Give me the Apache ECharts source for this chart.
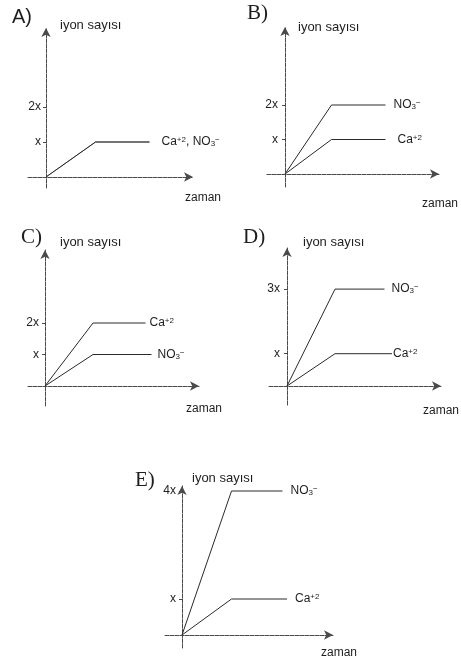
<!DOCTYPE html>
<html>
<head>
<meta charset="utf-8">
<script src="https://cdn.jsdelivr.net/npm/echarts@6/dist/echarts.min.js"></script>
<style>
  html, body { margin: 0; padding: 0; background: #fff; }
  #chart { width: 461px; height: 657px; }
</style>
</head>
<body>
<div id="chart"></div>
<script>
// ---- texts ----
const panelNames = ['A)', 'B)', 'C)', 'D)', 'E)'];
const yAxisTitle = 'iyon sayısı';
const xAxisTitle = 'zaman';
const caLabel = 'Ca{sup|+2}';
const no3Label = 'NO{sub|3}{sup|−}';
const bothLabel = 'Ca{sup|+2}, NO{sub|3}{sup|−}';

// ---- y-axis ticks (multiples of x) ----
const tickValuesA = [1, 2]; const tickLabelsA = ['x', '2x'];
const tickValuesB = [1, 2]; const tickLabelsB = ['x', '2x'];
const tickValuesC = [1, 2]; const tickLabelsC = ['x', '2x'];
const tickValuesD = [1, 3]; const tickLabelsD = ['x', '3x'];
const tickValuesE = [1, 4]; const tickLabelsE = ['x', '4x'];

// ---- time points and ion counts ----
const timeA = [0, 3.3, 6.9];
const caA = [0, 1, 1];
const no3A = [0, 1, 1];

const timeB = [0, 3.1, 6.7];
const no3B = [0, 2, 2];
const caB = [0, 1, 1];

const timeCca = [0, 3.2, 6.7];
const caC = [0, 2, 2];
const timeCno3 = [0, 3.2, 7.1];
const no3C = [0, 1, 1];

const timeDno3 = [0, 3.2, 6.5];
const no3D = [0, 3, 3];
const timeDca = [0, 3.2, 7.0];
const caD = [0, 1, 1];

const timeEno3 = [0, 3.3, 6.7];
const no3E = [0, 4, 4];
const timeEca = [0, 3.3, 7.0];
const caE = [0, 1, 1];

const zip = (t, v) => t.map((x, i) => [x, v[i]]);

// ---- panel layout (pixels) ----
const PX_PER_T = 15;
const ARROW = 4;
const panels = [
  { name: panelNames[0], ox: 46, oy: 177, xEnd: 197, yTop: 24, xLeft: 28, yBottom: 188, pyu: 35,
    title: [12, 7], serif: false, yNameGap: 3, yNamePad: 14, xNameGap: 10, xNamePad: 15, labelGap: 5,
    ticks: tickValuesA, tickLabels: tickLabelsA,
    lines: [ { t: timeA, v: no3A, label: null },
             { t: timeA, v: caA, label: bothLabel, dist: 12 } ] },
  { name: panelNames[1], ox: 285, oy: 174, xEnd: 443, yTop: 23, xLeft: 267, yBottom: 187, pyu: 34.5,
    title: [247, 3], serif: true, yNameGap: 0, yNamePad: 13, xNameGap: 1, xNamePad: 24, labelGap: 7,
    ticks: tickValuesB, tickLabels: tickLabelsB,
    lines: [ { t: timeB, v: no3B, label: no3Label, dist: 8 },
             { t: timeB, v: caB, label: caLabel, dist: 12 } ] },
  { name: panelNames[2], ox: 45, oy: 386, xEnd: 203, yTop: 246, xLeft: 28, yBottom: 406, pyu: 31.5,
    title: [21, 227], serif: true, yNameGap: 8, yNamePad: 15, xNameGap: 5, xNamePad: 17, labelGap: 6,
    ticks: tickValuesC, tickLabels: tickLabelsC,
    lines: [ { t: timeCca, v: caC, label: caLabel, dist: 4 },
             { t: timeCno3, v: no3C, label: no3Label, dist: 6 } ] },
  { name: panelNames[3], ox: 287, oy: 386, xEnd: 445, yTop: 244, xLeft: 269, yBottom: 405, pyu: 32.3,
    title: [243, 227], serif: true, yNameGap: 6, yNamePad: 16, xNameGap: 0, xNamePad: 19, labelGap: 7,
    ticks: tickValuesD, tickLabels: tickLabelsD,
    lines: [ { t: timeDno3, v: no3D, label: no3Label, dist: 7 },
             { t: timeDca, v: caD, label: caLabel, dist: 1 } ] },
  { name: panelNames[4], ox: 182, oy: 635, xEnd: 337, yTop: 482, xLeft: 165, yBottom: 648, pyu: 36,
    title: [135, 470], serif: true, yNameGap: 8, yNamePad: 10, xNameGap: 6, xNamePad: 12, labelGap: 6,
    ticks: tickValuesE, tickLabels: tickLabelsE,
    lines: [ { t: timeEno3, v: no3E, label: no3Label, dist: 8 },
             { t: timeEca, v: caE, label: caLabel, dist: 8 } ] }
];

const SANS = 'Liberation Sans, Arial, sans-serif';
const SERIF = 'Liberation Serif, Times New Roman, serif';
const INK = '#1e1e1e';
const AXIS_COLOR = '#4a4a4a';

const richStyles = {
  sup: { fontSize: 8, fontFamily: SANS, color: INK, verticalAlign: 'top', lineHeight: 9 },
  sub: { fontSize: 8, fontFamily: SANS, color: INK, verticalAlign: 'bottom', lineHeight: 9 }
};

const titles = [], grids = [], xAxes = [], yAxes = [], series = [];

panels.forEach((p, i) => {
  const gTop = p.yTop + ARROW;
  const gRight = p.xEnd - ARROW;
  // the y labels sit at the grid's left edge; shift them over to the axis through the origin
  const shift = p.ox - p.xLeft;
  titles.push({
    text: p.name, left: p.title[0], top: p.title[1], padding: 0,
    textStyle: { fontFamily: p.serif ? SERIF : SANS, fontSize: p.serif ? 21 : 20, fontWeight: 'normal', color: INK }
  });
  grids.push({
    left: p.xLeft, top: gTop, width: gRight - p.xLeft, height: p.yBottom - gTop,
    containLabel: false, outerBoundsMode: 'none'
  });
  xAxes.push({
    gridIndex: i, type: 'value',
    min: -(p.ox - p.xLeft) / PX_PER_T, max: (gRight - p.ox) / PX_PER_T,
    axisLine: { onZero: true, symbol: ['none', 'arrow'], symbolSize: [7, 9],
      lineStyle: { color: AXIS_COLOR, width: 1, type: [4, 1] } },
    axisTick: { show: false }, axisLabel: { show: false }, splitLine: { show: false },
    name: xAxisTitle, nameLocation: 'end', nameGap: p.xNameGap,
    nameTextStyle: { fontFamily: SANS, fontSize: 12, color: INK, align: 'center', verticalAlign: 'top',
      padding: [p.xNamePad, 0, 0, 0] }
  });
  yAxes.push({
    gridIndex: i, type: 'value',
    min: -(p.yBottom - p.oy) / p.pyu, max: (p.oy - gTop) / p.pyu,
    axisLine: { onZero: true, symbol: ['none', 'arrow'], symbolSize: [7, 9],
      lineStyle: { color: AXIS_COLOR, width: 1, type: [4, 1] } },
    axisTick: { show: true, customValues: p.ticks, length: 3, lineStyle: { color: AXIS_COLOR } },
    axisLabel: { show: true, customValues: p.ticks, margin: p.labelGap - shift, fontFamily: SANS, fontSize: 12, color: INK,
      formatter: v => { const k = p.ticks.indexOf(v); return k >= 0 ? p.tickLabels[k] : ''; } },
    splitLine: { show: false },
    name: yAxisTitle, nameLocation: 'end', nameGap: p.yNameGap,
    nameTextStyle: { fontFamily: SANS, fontSize: 13, color: INK, align: 'left', verticalAlign: 'middle',
      padding: [0, 0, 0, p.yNamePad] }
  });
  p.lines.forEach(l => {
    series.push({
      type: 'line', xAxisIndex: i, yAxisIndex: i,
      data: zip(l.t, l.v),
      showSymbol: false, symbol: 'none', silent: true,
      lineStyle: { color: '#2a2a2a', width: l.label ? 1 : 0.6 },
      endLabel: l.label ? {
        show: true, distance: l.dist, formatter: () => l.label,
        fontFamily: SANS, fontSize: 12, color: INK, rich: richStyles
      } : { show: false }
    });
  });
});

const chart = echarts.init(document.getElementById('chart'), null, { renderer: 'canvas' });
chart.setOption({
  animation: false,
  backgroundColor: '#ffffff',
  title: titles,
  grid: grids,
  xAxis: xAxes,
  yAxis: yAxes,
  series: series
});
</script>
</body>
</html>
